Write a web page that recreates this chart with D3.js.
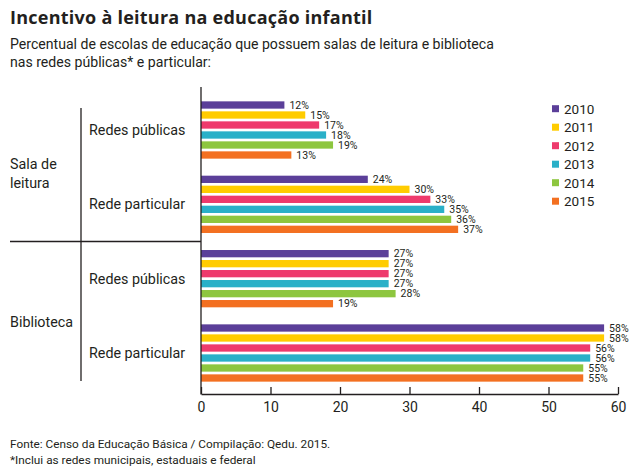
<!DOCTYPE html>
<html>
<head>
<meta charset="utf-8">
<script src="https://cdn.jsdelivr.net/npm/d3@7"></script>
<style>
  body { margin: 0; background: #fff; }
  svg { display: block; font-family: Roboto, "Open Sans", sans-serif; }
</style>
</head>
<body>
<svg id="chart" width="636" height="471"></svg>
<script>
// ---- data ----
const years = ["2010", "2011", "2012", "2013", "2014", "2015"];
const colors = ["#5b3f99", "#ffcc00", "#ee3a6c", "#2ab0c8", "#8dc63f", "#f37021"];
const groupLabels = ["Redes públicas", "Rede particular", "Redes públicas", "Rede particular"];
const sections = [["Sala de", "leitura"], ["Biblioteca"]];
const salaPublicas = [12, 15, 17, 18, 19, 13];
const salaParticular = [24, 30, 33, 35, 36, 37];
const biblioPublicas = [27, 27, 27, 27, 28, 19];
const biblioParticular = [58, 58, 56, 56, 55, 55];
const xTicks = [0, 10, 20, 30, 40, 50, 60];

const groups = [salaPublicas, salaParticular, biblioPublicas, biblioParticular];
const groupKeys = groups.map((_, i) => "g" + i);

const svg = d3.select("#chart");
const ink = "#231f20";

// ---- scales ----
const x = d3.scaleLinear().domain([0, 60]).range([201, 618]);
const yc = d3.scalePoint().domain(groupKeys).range([130, 353]);
const yi = d3.scaleBand().domain(years).range([-30, 30]).paddingInner(0.27).paddingOuter(0.135);
const color = d3.scaleOrdinal().domain(years).range(colors);

// ---- titles ----
svg.append("text").attr("x", 10).attr("y", 24)
  .attr("font-size", 18).attr("font-weight", 700).attr("fill", ink)
  .attr("font-family", "'Open Sans', sans-serif").attr("letter-spacing", 0.25)
  .text("Incentivo à leitura na educação infantil");
svg.append("text").attr("x", 10).attr("y", 48.5)
  .attr("font-size", 14.1).attr("fill", ink)
  .text("Percentual de escolas de educação que possuem salas de leitura e biblioteca");
svg.append("text").attr("x", 10).attr("y", 66.5)
  .attr("font-size", 14.1).attr("fill", ink)
  .text("nas redes públicas* e particular:");

// ---- bars ----
const g = svg.append("g");
groups.forEach((vals, gi) => {
  const cy = yc(groupKeys[gi]);
  const gg = g.append("g").attr("transform", `translate(0,${cy})`);
  gg.selectAll("rect").data(vals).join("rect")
    .attr("x", x(0))
    .attr("y", (d, i) => yi(years[i]))
    .attr("width", d => x(d) - x(0))
    .attr("height", yi.bandwidth())
    .attr("fill", (d, i) => color(years[i]));
  gg.selectAll("text").data(vals).join("text")
    .attr("x", d => x(d) + 5)
    .attr("y", (d, i) => yi(years[i]) + yi.bandwidth() / 2 + 3.5)
    .attr("font-size", 10.5).attr("fill", ink)
    .text(d => d + "%");
  // group label
  svg.append("text").attr("x", 89).attr("y", cy + 5)
    .attr("font-size", 14.3).attr("fill", ink)
    .text(groupLabels[gi]);
});

// ---- axis ----
const axis = d3.axisBottom(x).tickValues(xTicks).tickSize(-7).tickSizeOuter(0).tickPadding(8);
const axG = svg.append("g").attr("transform", "translate(0,394)").call(axis);
axG.select(".domain").attr("stroke", ink).attr("stroke-width", 1.3);
axG.selectAll(".tick line").attr("stroke", ink).attr("stroke-width", 1.3);
axG.selectAll(".tick text").attr("font-size", 14).attr("fill", ink).attr("font-family", "Roboto, sans-serif");

// vertical axis line
svg.append("line").attr("x1", x(0)).attr("x2", x(0)).attr("y1", 87).attr("y2", 394.6)
  .attr("stroke", ink).attr("stroke-width", 1.3);

// ---- left structure ----
const sepY = (yc("g1") + yc("g2")) / 2;
svg.append("line").attr("x1", 10).attr("x2", x(0)).attr("y1", sepY).attr("y2", sepY)
  .attr("stroke", ink).attr("stroke-width", 1.3);
svg.append("line").attr("x1", 81).attr("x2", 81)
  .attr("y1", yc("g0") - 22).attr("y2", yc("g3") + 28)
  .attr("stroke", ink).attr("stroke-width", 1.3);

// section labels
sections.forEach((lines, si) => {
  const mid = (yc(groupKeys[si * 2]) + yc(groupKeys[si * 2 + 1])) / 2 + 6;
  const t = svg.append("text").attr("font-size", 14.3).attr("fill", ink);
  const n = lines.length;
  lines.forEach((ln, li) => {
    t.append("tspan").attr("x", 10)
      .attr("y", mid + 5 + (li - (n - 1) / 2) * 19)
      .text(ln);
  });
});

// ---- legend ----
const leg = svg.append("g");
years.forEach((yr, i) => {
  const ly = 108.7 + i * 18.5;
  leg.append("rect").attr("x", 552).attr("y", ly - 3.5).attr("width", 7).attr("height", 7)
    .attr("fill", color(yr));
  leg.append("text").attr("x", 564).attr("y", ly + 5)
    .attr("font-size", 13.5).attr("fill", ink).text(yr);
});

// ---- footnotes ----
svg.append("text").attr("x", 10).attr("y", 448)
  .attr("font-size", 11.8).attr("fill", ink)
  .text("Fonte: Censo da Educação Básica / Compilação: Qedu. 2015.");
svg.append("text").attr("x", 10).attr("y", 463.5)
  .attr("font-size", 11.8).attr("fill", ink)
  .text("*Inclui as redes municipais, estaduais e federal");
</script>
</body>
</html>
